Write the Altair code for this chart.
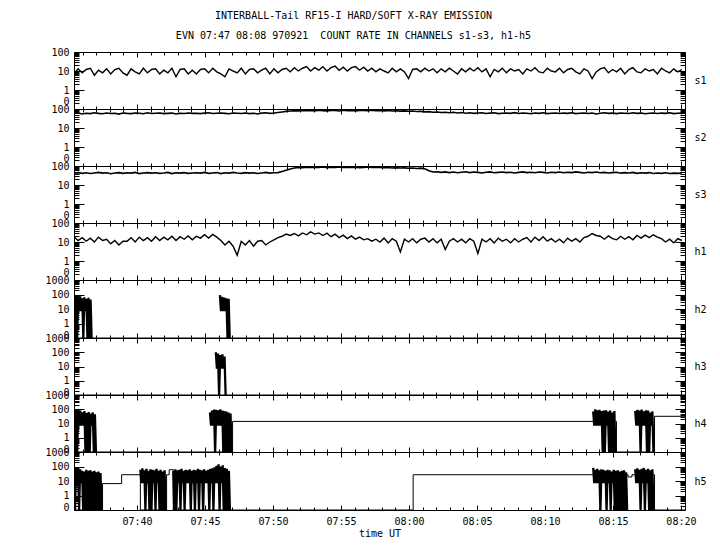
import numpy as np
import pandas as pd
import altair as alt

FONT = "DejaVu Sans Mono"
T_START, T_END, DT = 35.37, 80.3, 0.3
W = 611
PANEL_H = [57, 57, 57, 57, 58, 57, 57, 58]

TITLE_1 = "INTERBALL-Tail RF15-I HARD/SOFT X-RAY EMISSION"
TITLE_2 = "EVN 07:47 08:08 970921 \u00a0COUNT RATE IN CHANNELS s1-s3, h1-h5"

# ---- soft channels and h1: count rate sampled every 0.3 min from 07:35:22 ----
s1_counts = [7, 13, 8, 12, 14, 6, 11, 8, 13, 7, 12, 14, 8, 6, 13, 9, 7, 14, 8, 12, 13, 7, 11, 8, 14, 5, 12, 13, 7, 11,
             7, 12, 13, 8, 14, 9, 7, 5, 13, 10, 8, 14, 7, 12, 13, 8, 11, 14, 7, 13, 8, 12, 14, 9, 15, 10, 14, 17, 10, 15,
             11, 17, 10, 15, 18, 11, 16, 10, 15, 17, 11, 16, 10, 14, 9, 13, 10, 8, 14, 9, 13, 9, 4, 12, 13, 9, 14, 10, 13, 8,
             13, 9, 14, 10, 7, 13, 9, 14, 10, 15, 9, 13, 5, 12, 9, 14, 8, 13, 10, 12, 7, 13, 10, 15, 9, 8, 14, 10, 9, 14,
             8, 12, 14, 9, 7, 13, 10, 4, 9, 13, 15, 8, 12, 9, 14, 7, 12, 15, 9, 8, 13, 10, 12, 7, 14, 10, 8, 13, 9, 12]

s2_counts = [58, 62, 55, 60, 57, 63, 59, 56, 61, 58, 60, 54, 62, 59, 57, 61, 60, 56, 63, 58, 60, 62, 57, 59, 61, 55, 60, 58, 62, 59,
             60, 57, 61, 63, 58, 60, 62, 59, 56, 61, 60, 58, 62, 57, 60, 55, 61, 63, 59, 62, 66, 70, 75, 78, 82, 80, 85, 81, 84, 79,
             86, 82, 80, 85, 83, 79, 87, 82, 84, 80, 85, 83, 81, 86, 82, 84, 80, 83, 79, 81, 77, 80, 76, 78, 74, 75, 71, 73, 68, 70,
             66, 68, 64, 67, 62, 65, 60, 63, 59, 62, 64, 58, 61, 63, 57, 60, 62, 59, 64, 58, 61, 60, 56, 62, 59, 63, 57, 60, 62, 58,
             61, 59, 63, 57, 60, 62, 58, 61, 55, 60, 63, 59, 61, 57, 62, 60, 58, 63, 59, 61, 56, 60, 62, 58, 61, 59, 63, 57, 60, 61]

s3_counts = [42, 45, 41, 44, 40, 43, 46, 42, 44, 39, 43, 45, 41, 44, 42, 46, 40, 43, 45, 42, 44, 41, 43, 46, 40, 44, 42, 45, 41, 43,
             44, 42, 46, 41, 43, 45, 40, 44, 42, 46, 43, 41, 45, 42, 44, 40, 43, 46, 42, 44, 45, 52, 60, 70, 78, 84, 82, 87, 83, 86,
             84, 88, 82, 86, 85, 89, 83, 87, 84, 86, 82, 85, 88, 83, 86, 84, 81, 84, 79, 82, 78, 80, 76, 79, 74, 77, 72, 56, 48, 50,
             46, 49, 45, 48, 44, 47, 50, 45, 48, 46, 43, 47, 49, 44, 46, 48, 45, 47, 43, 46, 49, 45, 47, 44, 48, 46, 43, 47, 45, 48,
             44, 47, 45, 49, 46, 43, 47, 45, 48, 44, 46, 43, 45, 47, 42, 45, 43, 46, 41, 44, 42, 45, 40, 43, 41, 44, 40, 42, 41, 43]

h1_counts = [19, 12, 17, 11, 16, 10, 18, 12, 14, 8, 12, 7, 11,
             11, 17, 10, 18, 12, 17, 11, 19, 12, 18, 13, 20, 12, 19, 14, 21, 13, 20, 16,
             24, 16, 25, 18, 12, 7, 11, 6, 2, 11, 7, 12, 6, 11, 12, 7, 10,
             13, 17, 20, 26, 22, 28, 21, 30, 24, 34, 26,
             30, 22, 29, 19, 26, 17, 23, 15, 21, 14, 18, 13,
             15, 11, 14, 10, 16, 9, 15, 11, 3,
             14, 10, 15, 9, 14, 16, 10, 15, 9, 14, 4,
             11, 15, 10, 14, 9, 15, 11, 2.5,
             14, 10, 15, 9, 16, 11, 14, 9, 15, 10, 14, 17, 10, 18, 12, 19,
             11, 15, 10, 14, 9, 16, 11, 15, 10, 17, 20, 28, 22,
             20, 14, 21, 15, 13, 20, 14, 19, 13, 22, 16, 23, 17, 24, 18, 15, 10, 14, 9, 15, 12]

# ---- hard channels: quiet level (step) and bursts (peak/floor pairs) ----
h2_quiet_t = [35.37, 80.3]
h2_quiet_c = [0, 0]
h2_b1_peaks = [95, 70, 60, 75, 55, 65, 50, 60, 45]
h2_b1_floors = [0, 0, 7, 7, 0, 7, 0, 0, 0]
h2_b2_peaks = [90, 70, 60, 55, 50]
h2_b2_floors = [7, 7, 7, 0, 0]
h2_bursts = [(35.37, 36.74, h2_b1_peaks, h2_b1_floors), (46.10, 46.90, h2_b2_peaks, h2_b2_floors)]

h3_quiet_t = [35.37, 80.3]
h3_quiet_c = [0, 0]
h3_b1_peaks = [100, 80, 65, 70, 50]
h3_b1_floors = [7, 0, 7, 7, 0]
h3_bursts = [(45.80, 46.60, h3_b1_peaks, h3_b1_floors)]

h4_quiet_t = [35.37, 47.03, 75.26, 78.06, 80.3]
h4_quiet_c = [0, 14, 0, 32, 32]
h4_b1_peaks = [90, 100, 70, 80, 60, 75, 55, 65, 50, 60, 45]
h4_b1_floors = [0, 0, 7, 7, 7, 0, 0, 0, 7, 0, 0]
h4_b2_peaks = [60, 80, 95, 90, 85, 100, 80, 75, 70, 60, 50]
h4_b2_floors = [7, 7, 0, 7, 7, 7, 0, 0, 0, 0, 0]
h4_b3_peaks = [70, 100, 85, 90, 75, 80, 85, 70, 80, 60, 75]
h4_b3_floors = [7, 7, 7, 7, 0, 0, 7, 0, 0, 0, 0]
h4_b4_peaks = [75, 90, 80, 95, 70, 85, 80, 60, 70]
h4_b4_floors = [7, 7, 0, 7, 7, 0, 0, 7, 0]
h4_bursts = [(35.37, 37.06, h4_b1_peaks, h4_b1_floors), (45.37, 47.03, h4_b2_peaks, h4_b2_floors),
             (73.55, 75.26, h4_b3_peaks, h4_b3_floors), (76.64, 78.06, h4_b4_peaks, h4_b4_floors)]

h5_quiet_t = [35.37, 37.47, 38.87, 40.25, 42.18, 42.37, 42.67, 60.31, 76.12, 76.40, 78.06, 80.3]
h5_quiet_c = [0, 6.6, 27, 0, 27, 60, 0, 27, 19, 27, 0, 0]
h5_b1_peaks = [70, 60, 55, 65, 50, 45, 60, 50, 55, 45, 50, 40, 45, 35]
h5_b1_floors = [0, 7, 0, 7, 0, 0, 0, 0, 0, 0, 0, 0, 0, 0]
h5_b2_peaks = [60, 75, 55, 70, 50, 65, 60, 55, 70, 50, 60, 45, 55]
h5_b2_floors = [7, 7, 0, 7, 0, 0, 7, 0, 7, 0, 0, 0, 0]
h5_b3_peaks = [50, 65, 55, 60, 70, 50, 60, 55, 65, 50, 60, 55, 70, 60, 55, 65, 50, 60, 70, 75, 90, 110, 140, 100, 120, 80, 70, 50]
h5_b3_floors = [0, 0, 7, 0, 7, 0, 7, 7, 0, 7, 0, 7, 0, 7, 0, 7, 7, 0, 7, 0, 7, 7, 0, 7, 0, 0, 0, 0]
h5_b4_peaks = [80, 60, 70, 55, 65, 60, 50, 60, 55, 45, 60, 50, 55, 45, 50, 55, 40]
h5_b4_floors = [7, 7, 7, 0, 7, 7, 0, 7, 0, 7, 0, 0, 0, 0, 0, 0, 0]
h5_b5_peaks = [65, 75, 60, 70, 80, 60, 70, 55, 65]
h5_b5_floors = [7, 7, 0, 7, 0, 7, 0, 0, 0]
h5_bursts = [(35.37, 37.47, h5_b1_peaks, h5_b1_floors), (40.25, 42.18, h5_b2_peaks, h5_b2_floors),
             (42.67, 46.91, h5_b3_peaks, h5_b3_floors), (73.55, 76.12, h5_b4_peaks, h5_b4_floors),
             (76.64, 78.06, h5_b5_peaks, h5_b5_floors)]

X_MAJOR = [40, 45, 50, 55, 60, 65, 70, 75, 80]
X_MINOR = [m for m in range(36, 81) if m % 5 != 0]


def to_log(c):
    c = np.asarray(c, dtype=float)
    out = np.full(c.shape, -1.0)
    pos = c > 0
    out[pos] = np.log10(c[pos])
    return out


def noisy_df(counts):
    t = T_START + DT * np.arange(len(counts))
    return pd.DataFrame({"t": t, "v": to_log(counts)})


def quiet_df(ts, cs):
    return pd.DataFrame({"t": ts, "v": to_log(cs)})


def burst_df(bursts):
    rows = []
    for j, (t0, t1, peaks, floors) in enumerate(bursts):
        n = len(peaks)
        dt = (t1 - t0) / n
        for k in range(n):
            rows.append((j, t0 + k * dt, peaks[k]))
            rows.append((j, t0 + (k + 0.5) * dt, floors[k]))
    df = pd.DataFrame(rows, columns=["b", "t", "c"])
    df["v"] = to_log(df["c"])
    df["o"] = np.arange(len(df))
    return df


ghost_data = pd.DataFrame({"t": [50.0], "v": [0.0]})
X_LABEL_EXPR = ("(datum.value < 60 ? '07:' : '08:') + (datum.value % 60 < 10 ? '0' : '') + (datum.value % 60)")
Y_LABEL_EXPR = "datum.value < -0.5 ? '0' : format(pow(10, datum.value), 'd')"


def tick_axis(orient, offset, values, size):
    return alt.Axis(orient=orient, offset=offset, values=values, tickSize=size, ticks=True, labels=False,
                    domain=False, grid=False, title=None, tickWidth=1, tickColor="black")


def panel(label, data_layers, top, height, last):
    xs = alt.Scale(domain=[T_START, T_END], nice=False, zero=False)
    ys = alt.Scale(domain=[-1, top], nice=False, zero=False)
    major = list(range(-1, top + 1))
    minor = [float(np.log10(k) + d) for d in range(-1, top) for k in range(2, 10)]
    layers = []
    for df, kind, sw in data_layers:
        if kind == "noise":
            layers.append(alt.Chart(df).mark_line(color="black", strokeWidth=sw, clip=True).encode(
                x=alt.X("t:Q", scale=xs, axis=None), y=alt.Y("v:Q", scale=ys, axis=None)))
        elif kind == "quiet":
            layers.append(alt.Chart(df).mark_line(color="black", strokeWidth=sw, clip=True,
                                                  interpolate="step-after").encode(
                x=alt.X("t:Q", scale=xs, axis=None), y=alt.Y("v:Q", scale=ys, axis=None)))
        else:
            layers.append(alt.Chart(df).mark_line(color="black", strokeWidth=sw, clip=True,
                                                  strokeJoin="bevel").encode(
                x=alt.X("t:Q", scale=xs, axis=None), y=alt.Y("v:Q", scale=ys, axis=None),
                detail="b:N", order="o:Q"))

    def ghost(xaxis, yaxis):
        xa = alt.X("t:Q", scale=xs, axis=xaxis) if xaxis is not None else alt.X("t:Q", scale=xs, axis=None)
        return alt.Chart(ghost_data).mark_point(opacity=0).encode(
            x=xa, y=alt.Y("v:Q", scale=ys, axis=yaxis))

    right_title = alt.Axis(orient="right", title=label, titleAngle=0, titleAlign="left", titleBaseline="middle",
                           titlePadding=9, labels=False, ticks=False, tickSize=0, domain=False, grid=False,
                           titleFont=FONT, titleFontSize=10, titleFontWeight="normal", titleColor="black")
    bottom_labels = None
    if last:
        bottom_labels = alt.Axis(orient="bottom", values=X_MAJOR, labelExpr=X_LABEL_EXPR, ticks=False, tickSize=0,
                                 labelPadding=6, domain=False, grid=False, title="time UT", titlePadding=2,
                                 labelFlush=False, labelOverlap=False)
    zero_base = "alphabetic" if top == 3 else "line-bottom"
    left_labels = alt.Axis(orient="left", values=major, labelExpr=Y_LABEL_EXPR, ticks=False, tickSize=0,
                           labelPadding=5, domain=False, grid=False, title=None, labelOverlap=False,
                           labelLineHeight=15,
                           labelBaseline={"condition": {"test": "datum.value < -0.5", "value": zero_base},
                                          "value": "middle"})
    layers += [
        ghost(bottom_labels, right_title),
        ghost(tick_axis("top", -height, X_MAJOR, 5), left_labels),
        ghost(tick_axis("top", -height, X_MINOR, 3), tick_axis("right", -W, major, 10)),
        ghost(tick_axis("bottom", -height, X_MAJOR, 5), tick_axis("right", -W, minor, 5)),
        ghost(tick_axis("bottom", -height, X_MINOR, 3), tick_axis("left", -W, major, 10)),
        ghost(None, tick_axis("left", -W, minor, 5)),
    ]
    return alt.layer(*layers).resolve_axis(x="independent", y="independent").properties(width=W, height=height)


specs = [
    ("s1", [(noisy_df(s1_counts), "noise", 1.4)], 2),
    ("s2", [(noisy_df(s2_counts), "noise", 1.6)], 2),
    ("s3", [(noisy_df(s3_counts), "noise", 1.6)], 2),
    ("h1", [(noisy_df(h1_counts), "noise", 1.4)], 2),
    ("h2", [(quiet_df(h2_quiet_t, h2_quiet_c), "quiet", 1), (burst_df(h2_bursts), "burst", 2.3)], 3),
    ("h3", [(quiet_df(h3_quiet_t, h3_quiet_c), "quiet", 1), (burst_df(h3_bursts), "burst", 2.3)], 3),
    ("h4", [(quiet_df(h4_quiet_t, h4_quiet_c), "quiet", 1), (burst_df(h4_bursts), "burst", 2.3)], 3),
    ("h5", [(quiet_df(h5_quiet_t, h5_quiet_c), "quiet", 1), (burst_df(h5_bursts), "burst", 2.3)], 3),
]
panels = [panel(lbl, dl, top, PANEL_H[i], i == len(specs) - 1) for i, (lbl, dl, top) in enumerate(specs)]

chart = alt.vconcat(*panels, spacing=0, bounds="flush").properties(
    title=alt.TitleParams(text=[TITLE_1, TITLE_2], anchor="middle", font=FONT, fontSize=10,
                          fontWeight="normal", color="black", lineHeight=20, offset=6, dx=-22),
    padding={"left": 36, "top": 2, "right": 5, "bottom": 5},
    background="white",
).configure_view(stroke="black", strokeWidth=1).configure_axis(
    labelFont=FONT, labelFontSize=10, labelColor="black", titleFont=FONT, titleFontSize=10,
    titleFontWeight="normal", titleColor="black", tickColor="black"
)

chart.save("out.html", embed_options={"renderer": "svg", "actions": False})
